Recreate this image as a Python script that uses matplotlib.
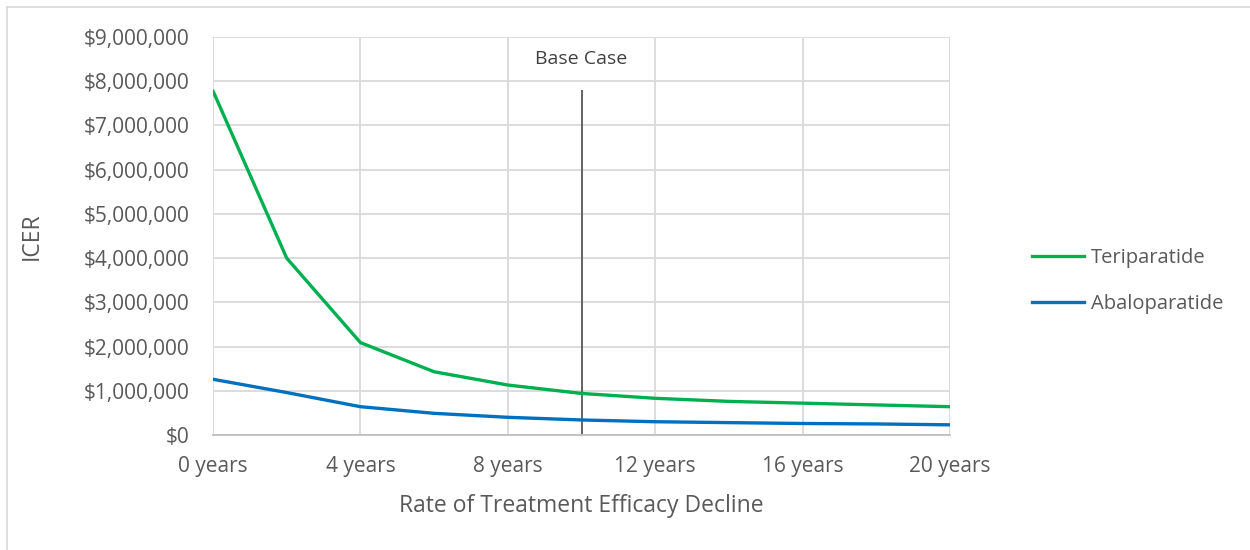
import matplotlib
matplotlib.use("Agg")
import matplotlib.pyplot as plt
from matplotlib.lines import Line2D
from matplotlib.ticker import FuncFormatter

years = [0, 2, 4, 6, 8, 10, 12, 14, 16, 18, 20]
teriparatide = [7780000, 4000000, 2090000, 1430000, 1130000, 940000, 830000, 760000, 720000, 680000, 640000]
abaloparatide = [1260000, 960000, 640000, 490000, 400000, 340000, 300000, 280000, 260000, 250000, 230000]
xtick_vals = [0, 4, 8, 12, 16, 20]
xtick_labels = ["0 years", "4 years", "8 years", "12 years", "16 years", "20 years"]
ytick_vals = [0, 1e6, 2e6, 3e6, 4e6, 5e6, 6e6, 7e6, 8e6, 9e6]
base_case_year = 10
base_case_top = 7800000

plt.rcParams['font.family'] = ['Open Sans', 'DejaVu Sans']
txt = '#595959'

fig = plt.figure(figsize=(12.5, 5.5), dpi=100)
ax = fig.add_axes([213/1250, 1 - 435/550, (950-213)/1250, (435-37)/550])

ax.plot(years, teriparatide, color='#00b050', lw=2.4, solid_capstyle='round', label='Teriparatide', zorder=3)
ax.plot(years, abaloparatide, color='#0070c0', lw=2.4, solid_capstyle='round', label='Abaloparatide', zorder=3)
ax.vlines(base_case_year, 0, base_case_top, color='#595959', lw=1.3, zorder=2)
ax.text(base_case_year, 8.5e6, 'Base Case', ha='center', va='center', fontsize=14, color='#404040')

ax.set_xlim(0, 20)
ax.set_ylim(0, 9e6)
ax.set_xticks(xtick_vals)
ax.set_xticklabels(xtick_labels)
ax.set_yticks(ytick_vals)
ax.yaxis.set_major_formatter(FuncFormatter(lambda v, p: "${:,.0f}".format(v)))
ax.tick_params(axis='both', length=0, labelsize=15, labelcolor=txt)
ax.tick_params(axis='y', pad=17)
ax.tick_params(axis='x', pad=15)
ax.grid(True, color='#d9d9d9', lw=1.3, zorder=0)
ax.set_axisbelow(True)
for s in ['top', 'right', 'left']:
    ax.spines[s].set_visible(False)
ax.spines['bottom'].set_color('#bfbfbf')
ax.spines['bottom'].set_linewidth(1.3)

ax.set_xlabel('Rate of Treatment Efficacy Decline', fontsize=16.5, color=txt)
ax.set_ylabel('ICER', fontsize=16.5, color=txt)
ax.xaxis.set_label_coords(0.5, -(494-435)/(435-37), transform=ax.transAxes)
ax.yaxis.set_label_coords(-(213-44)/(950-213), 0.5, transform=ax.transAxes)

leg = fig.legend(handles=[Line2D([0], [0], color='#00b050', lw=2.4),
                          Line2D([0], [0], color='#0070c0', lw=2.4)],
                 labels=['Teriparatide', 'Abaloparatide'],
                 loc='center left', bbox_to_anchor=(1014/1250, 1 - 281/550),
                 frameon=False, fontsize=14.5, labelcolor=txt,
                 handlelength=2.6, handletextpad=0.3, labelspacing=1.25)

fig.add_artist(Line2D([7/1250, 1], [1 - 7/550, 1 - 7/550], color='#d9d9d9', lw=1.2, transform=fig.transFigure))
fig.add_artist(Line2D([7/1250, 7/1250], [0, 1 - 7/550], color='#d9d9d9', lw=1.2, transform=fig.transFigure))

fig.savefig('out.png', dpi=100)
